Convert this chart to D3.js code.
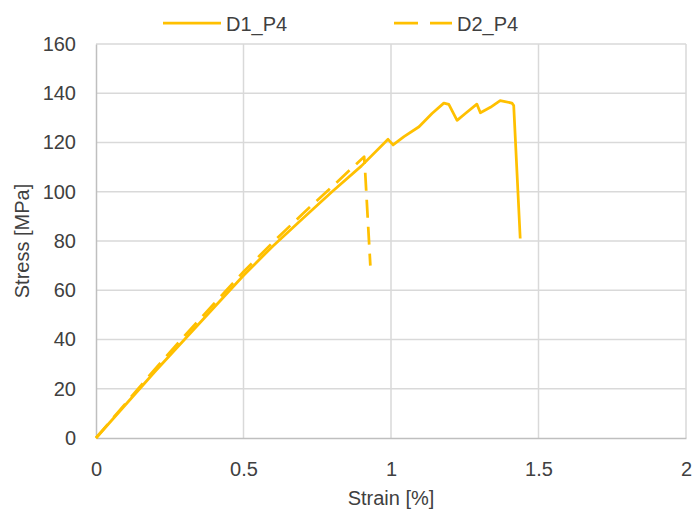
<!DOCTYPE html>
<html>
<head>
<meta charset="utf-8">
<script src="https://cdn.jsdelivr.net/npm/d3@7"></script>
<style>
  body { margin: 0; background: #fff; }
  text { font-family: "Liberation Sans", Arial, sans-serif; fill: #404040; }
</style>
</head>
<body>
<div id="chart"></div>
<script>
// Data: strain [%], stress [MPa]
var d1Strain = [0, 0.1, 0.2, 0.3, 0.4, 0.5, 0.6, 0.7, 0.8, 0.9, 0.99, 1.007, 1.044, 1.095, 1.139, 1.179, 1.196, 1.224, 1.252, 1.291, 1.303, 1.337, 1.37, 1.41, 1.416, 1.438];
var d1Stress = [0, 13.5, 27, 40, 53, 66, 78, 89, 100, 110.5, 121.3, 119, 122.4, 126.4, 131.8, 136, 135.5, 129, 131.8, 135.6, 132.1, 134.3, 137, 136, 135, 81];
var d2Strain = [0, 0.1, 0.2, 0.3, 0.4, 0.5, 0.6, 0.7, 0.8, 0.88, 0.909, 0.912, 0.93];
var d2Stress = [0, 14, 28, 41.5, 54.5, 67.5, 79.5, 91, 102, 111, 114.2, 109, 70];
var xTicks = [0, 0.5, 1, 1.5, 2];
var yTicks = [0, 20, 40, 60, 80, 100, 120, 140, 160];
var seriesNames = ["D1_P4", "D2_P4"];

var W = 692, H = 509;
var margin = {top: 44, right: 6, bottom: 71, left: 96},
    width = W - margin.left - margin.right,
    height = H - margin.top - margin.bottom;

var svg = d3.select("#chart")
  .append("svg")
    .attr("width", W)
    .attr("height", H);

var g = svg.append("g")
    .attr("transform", "translate(" + margin.left + "," + margin.top + ")");

var x = d3.scaleLinear().domain([0, 2]).range([0, width]);
var y = d3.scaleLinear().domain([0, 160]).range([height, 0]);

// gridlines
g.selectAll(".hgrid").data(yTicks.slice(1)).enter().append("line")
  .attr("x1", 0).attr("x2", width)
  .attr("y1", d => y(d)).attr("y2", d => y(d))
  .attr("stroke", "#d9d9d9").attr("stroke-width", 1.5);
g.selectAll(".vgrid").data(xTicks.slice(1)).enter().append("line")
  .attr("x1", d => x(d)).attr("x2", d => x(d))
  .attr("y1", 0).attr("y2", height)
  .attr("stroke", "#d9d9d9").attr("stroke-width", 1.5);

// axes
var xAxis = g.append("g")
  .attr("transform", "translate(0," + height + ")")
  .call(d3.axisBottom(x).tickValues(xTicks).tickSize(0).tickPadding(20).tickFormat(d3.format("")));
var yAxis = g.append("g")
  .call(d3.axisLeft(y).tickValues(yTicks).tickSize(0).tickPadding(20));
[xAxis, yAxis].forEach(function(a) {
  a.select(".domain").attr("stroke", "#bfbfbf").attr("stroke-width", 1.5);
  a.selectAll("text").attr("font-size", 20).attr("fill", "#404040")
    .attr("font-family", "Liberation Sans, Arial, sans-serif");
});
xAxis.selectAll("text").attr("dy", "0.9em");

// axis titles
svg.append("text")
  .attr("x", margin.left + x(1)).attr("y", 505)
  .attr("text-anchor", "middle").attr("font-size", 20)
  .text("Strain [%]");
svg.append("text")
  .attr("transform", "translate(29," + (margin.top + y(80)) + ") rotate(-90)")
  .attr("text-anchor", "middle").attr("font-size", 20)
  .text("Stress [MPa]");

// lines
var line = d3.line()
  .x(d => x(d[0]))
  .y(d => y(d[1]));

var d1 = d3.zip(d1Strain, d1Stress);
var d2 = d3.zip(d2Strain, d2Stress);

g.append("path")
  .datum(d2)
  .attr("fill", "none")
  .attr("stroke", "#FFC000")
  .attr("stroke-width", 2.75)
  .attr("stroke-linejoin", "round")
  .attr("stroke-dasharray", "18,9")
  .attr("d", line);

g.append("path")
  .datum(d1)
  .attr("fill", "none")
  .attr("stroke", "#FFC000")
  .attr("stroke-width", 2.75)
  .attr("stroke-linejoin", "round")
  .attr("d", line);

// legend
var legend = svg.append("g");
[{x: 163, dash: null}, {x: 394, dash: "24,12"}].forEach(function(l, i) {
  legend.append("line")
    .attr("x1", l.x).attr("x2", l.x + 58)
    .attr("y1", 23).attr("y2", 23)
    .attr("stroke", "#FFC000").attr("stroke-width", 2.75)
    .attr("stroke-dasharray", l.dash);
  legend.append("text")
    .attr("x", l.x + 63).attr("y", 31)
    .attr("font-size", 20)
    .text(seriesNames[i]);
});
</script>
</body>
</html>
